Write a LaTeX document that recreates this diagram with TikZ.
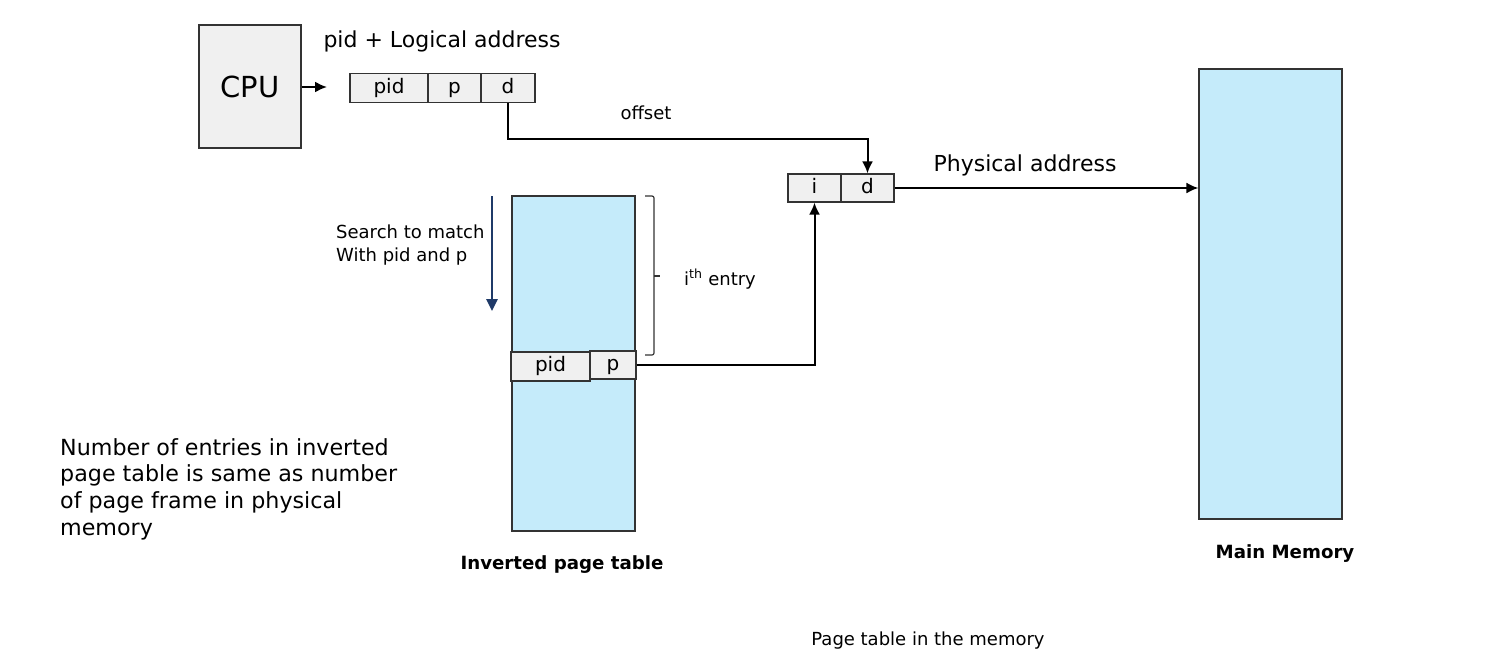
\documentclass[tikz,border=0pt]{standalone}
\usepackage{fontspec}
\setmainfont{DejaVu Sans}
\usetikzlibrary{arrows.meta}
\definecolor{boxgray}{HTML}{F0F0F0}
\definecolor{memblue}{HTML}{C5EBFA}
\definecolor{navy}{HTML}{1F3A68}
\definecolor{edge}{HTML}{333333}
\tikzset{
  cell/.style={draw=edge, line width=1.2pt, fill=boxgray, inner sep=0pt, minimum height=29pt,
    text height=15pt, text depth=5pt, font=\fontsize{20}{24}\selectfont},
  memblock/.style={draw=edge, line width=1.2pt, fill=memblue, inner sep=0pt},
  conn/.style={line width=2pt, black},
  arr/.style={conn, -{Latex[length=12pt,width=11pt]}},
  lbl/.style={inner sep=0pt, font=\fontsize{22}{26}\selectfont},
  slbl/.style={inner sep=0pt, font=\fontsize{18}{23}\selectfont},
  blbl/.style={inner sep=0pt, font=\fontsize{18.2}{22}\selectfont\bfseries},
}
\begin{document}
\begin{tikzpicture}[x=1pt,y=-1pt]
\useasboundingbox (0,0) rectangle (1496,664);
% CPU
\node[cell, minimum width=102pt, minimum height=123pt, text height=, text depth=, font=\fontsize{29}{33}\selectfont] (cpu) at (250,86.5) {CPU};
% logical address
\node[cell, minimum width=78pt] (lpid) at (389,88) {pid};
\node[cell, minimum width=53pt] (lp) at (454.5,88) {p};
\node[cell, minimum width=54pt] (ld) at (508,88) {d};
\node[lbl] (ltitle) at (442,41) {pid + Logical address};
\coordinate (cpuend) at (327,87);
\draw[arr] (cpu.east |- cpuend) -- (cpuend);
% physical address
\node[cell, minimum width=53pt, minimum height=28pt] (pi) at (814.5,188) {i};
\node[cell, minimum width=53pt, minimum height=28pt] (pd) at (867.5,188) {d};
% main memory
\node[memblock, minimum width=143pt, minimum height=450pt] (mem) at (1270.5,294) {};
\node[blbl] (memlbl) at (1285,554) {Main Memory};
% inverted page table
\node[memblock, minimum width=123pt, minimum height=335pt] (ipt) at (573.5,363.5) {};
\node[cell, minimum width=79pt, minimum height=29pt] (epid) at (550.5,366.5) {pid};
\node[cell, minimum width=46pt, minimum height=28pt] (ep) at (613,365) {p};
\node[blbl] (iptlbl) at (562,565) {Inverted page table};
% connectors
\draw[arr] (ld.south) -- ++(0,36) -| (pd.north);
\node[slbl] (offlbl) at (646,113) {offset};
\draw[arr] (pd.east) -- (mem.west |- pd.east);
\node[lbl] (phys) at (1025,165) {Physical address};
\draw[arr] (ep.east) -| (pi.south);
% brace
\draw[line width=1.2pt, edge, rounded corners=2pt] (645,196) -- (654,196) -- (654,355) -- (645,355);
\draw[line width=1.2pt, edge] (654,276) -- (660,276);
\node[slbl] (ith) at (720,279) {i\textsuperscript{th} entry};
% search arrow
\coordinate (s1) at (492,196);
\coordinate (s2) at (492,311);
\draw[line width=2.5pt, navy, -{Triangle[length=12pt,width=11pt]}] (s1) -- (s2);
\node[slbl, align=left, anchor=west] (search) at (336,245.5) {Search to match\\With pid and p};
% note
\node[lbl, align=left, anchor=west, font=\fontsize{22.2}{26.7}\selectfont] (note) at (60,489)
  {Number of entries in inverted\\page table is same as number\\of page frame in physical\\memory};
\node[slbl] (bottom) at (928,641) {Page table in the memory};
\end{tikzpicture}
\end{document}
